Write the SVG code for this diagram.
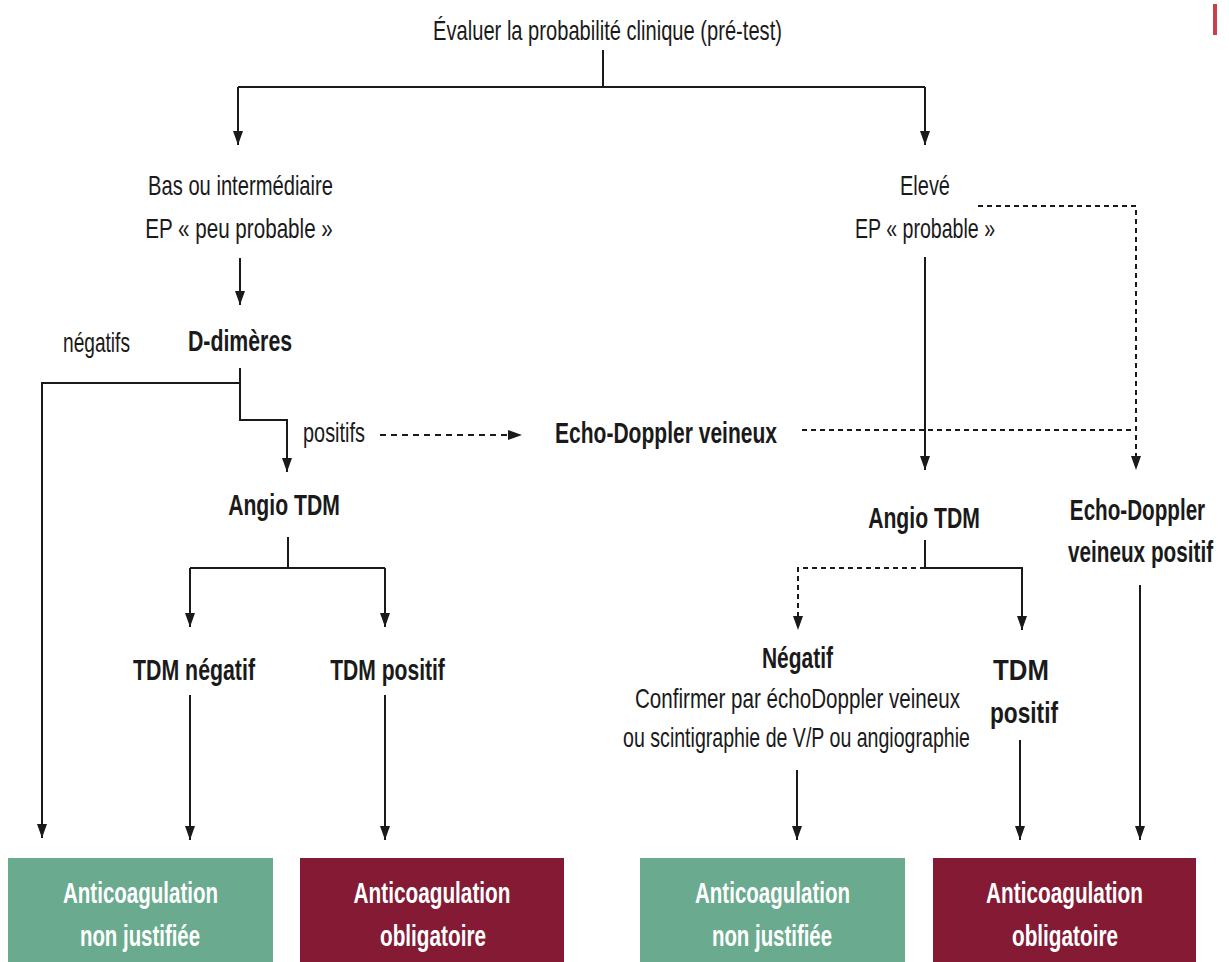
<svg xmlns="http://www.w3.org/2000/svg" width="1229" height="962" viewBox="0 0 1229 962">
  <defs>
    <!-- one arrowhead, aligned with the end of each path -->
    <marker id="arrow" viewBox="0 0 14 10" refX="14" refY="5" markerWidth="14" markerHeight="10" markerUnits="userSpaceOnUse" orient="auto">
      <path d="M0,0 L14,5 L0,10 Z" fill="#1a1a1a"/>
    </marker>
    <style>
      text { font-family: "Liberation Sans", Arial, sans-serif; font-size: 28px; fill: #1a1a1a; text-anchor: middle; }
      .b { font-weight: bold; font-size: 29px; }
      .w { fill: #ffffff; font-weight: bold; font-size: 29px; }
      .ln { fill: none; stroke: #1a1a1a; stroke-width: 2; }
      .dash { fill: none; stroke: #1a1a1a; stroke-width: 2; stroke-dasharray: 6 5; }
      .dot { fill: none; stroke: #1a1a1a; stroke-width: 2; stroke-dasharray: 5 4; }
      .ok { fill: #6aab8f; }
      .must { fill: #841a34; }
    </style>
  </defs>

  <!-- page marker -->
  <rect x="1213" y="4" width="4" height="31" fill="#c8414a"/>

  <!-- connectors -->
  <g id="connectors">
    <path class="ln" d="M603,50 V87"/>
    <path class="ln" d="M238,87 H925"/>
    <path class="ln" d="M238,87 V145" marker-end="url(#arrow)"/>
    <path class="ln" d="M925,87 V145" marker-end="url(#arrow)"/>

    <path class="ln" d="M240,258 V305" marker-end="url(#arrow)"/>
    <path class="ln" d="M240,368 V420 H287 V472" marker-end="url(#arrow)"/>
    <path class="ln" d="M240,383 H42 V838" marker-end="url(#arrow)"/>
    <path class="dash" d="M380,435 H522" marker-end="url(#arrow)"/>

    <path class="dot" d="M802,430 H1136"/>
    <path class="dot" d="M978,206 H1136 V470" marker-end="url(#arrow)"/>
    <path class="ln" d="M925,257 V470" marker-end="url(#arrow)"/>

    <path class="ln" d="M288,537 V568"/>
    <path class="ln" d="M190,568 H385"/>
    <path class="ln" d="M190,568 V627" marker-end="url(#arrow)"/>
    <path class="ln" d="M385,568 V627" marker-end="url(#arrow)"/>
    <path class="ln" d="M190,695 V840" marker-end="url(#arrow)"/>
    <path class="ln" d="M385,695 V840" marker-end="url(#arrow)"/>

    <path class="ln" d="M925,540 V568 H1022 V630" marker-end="url(#arrow)"/>
    <path class="dot" d="M925,568 H798 V630" marker-end="url(#arrow)"/>
    <path class="ln" d="M797,770 V840" marker-end="url(#arrow)"/>
    <path class="ln" d="M1020,740 V840" marker-end="url(#arrow)"/>
    <path class="ln" d="M1140,585 V840" marker-end="url(#arrow)"/>
  </g>

  <!-- regular labels are narrowed to 0.68, bold ones to 0.76 -->
  <g id="node-start">
    <text transform="matrix(0.68 0 0 1 607.5 40)" textLength="513" lengthAdjust="spacingAndGlyphs">Évaluer la probabilité clinique (pré-test)</text>
  </g>

  <g id="node-low">
    <text transform="matrix(0.68 0 0 1 240.5 195)" textLength="272" lengthAdjust="spacingAndGlyphs">Bas ou intermédiaire</text>
    <text transform="matrix(0.68 0 0 1 239 238)" textLength="276" lengthAdjust="spacingAndGlyphs">EP « peu probable »</text>
  </g>

  <g id="node-high">
    <text transform="matrix(0.68 0 0 1 925 195)" textLength="73.5" lengthAdjust="spacingAndGlyphs">Elevé</text>
    <text transform="matrix(0.68 0 0 1 925 238)" textLength="206" lengthAdjust="spacingAndGlyphs">EP « probable »</text>
  </g>

  <g id="node-ddimeres">
    <text class="b" transform="matrix(0.76 0 0 1 240 351)" textLength="137" lengthAdjust="spacingAndGlyphs">D-dimères</text>
  </g>

  <g id="label-negatifs">
    <text transform="matrix(0.68 0 0 1 96.5 352)" textLength="98.5" lengthAdjust="spacingAndGlyphs">négatifs</text>
  </g>

  <g id="label-positifs">
    <text transform="matrix(0.68 0 0 1 334 442)" textLength="91" lengthAdjust="spacingAndGlyphs">positifs</text>
  </g>

  <g id="node-echo">
    <text class="b" transform="matrix(0.76 0 0 1 666 443)" textLength="292" lengthAdjust="spacingAndGlyphs">Echo-Doppler veineux</text>
  </g>

  <g id="node-angio-left">
    <text class="b" transform="matrix(0.76 0 0 1 284 515)" textLength="147" lengthAdjust="spacingAndGlyphs">Angio TDM</text>
  </g>

  <g id="node-angio-right">
    <text class="b" transform="matrix(0.76 0 0 1 924 528)" textLength="147" lengthAdjust="spacingAndGlyphs">Angio TDM</text>
  </g>

  <g id="node-echo-positive">
    <text class="b" transform="matrix(0.76 0 0 1 1137.5 520)" textLength="178" lengthAdjust="spacingAndGlyphs">Echo-Doppler</text>
    <text class="b" transform="matrix(0.76 0 0 1 1140.5 562)" textLength="191" lengthAdjust="spacingAndGlyphs">veineux positif</text>
  </g>

  <g id="node-tdm-neg">
    <text class="b" transform="matrix(0.76 0 0 1 194 680)" textLength="160.5" lengthAdjust="spacingAndGlyphs">TDM négatif</text>
  </g>

  <g id="node-tdm-pos">
    <text class="b" transform="matrix(0.76 0 0 1 387.5 680)" textLength="151" lengthAdjust="spacingAndGlyphs">TDM positif</text>
  </g>

  <g id="node-negatif">
    <text class="b" transform="matrix(0.76 0 0 1 797.5 668)" textLength="93.5" lengthAdjust="spacingAndGlyphs">Négatif</text>
    <text transform="matrix(0.68 0 0 1 797.5 708)" textLength="478" lengthAdjust="spacingAndGlyphs">Confirmer par échoDoppler veineux</text>
    <text transform="matrix(0.68 0 0 1 796.5 747)" textLength="510" lengthAdjust="spacingAndGlyphs">ou scintigraphie de V/P ou angiographie</text>
  </g>

  <g id="node-tdm-pos-right">
    <text class="b" transform="matrix(0.76 0 0 1 1021 680)" textLength="73.5" lengthAdjust="spacingAndGlyphs">TDM</text>
    <text class="b" transform="matrix(0.76 0 0 1 1024 723)" textLength="89.5" lengthAdjust="spacingAndGlyphs">positif</text>
  </g>

  <!-- outcome boxes -->
  <g id="box-1">
    <rect class="ok" x="8" y="858" width="265" height="110"/>
    <text class="w" transform="matrix(0.76 0 0 1 140.5 903)" textLength="204" lengthAdjust="spacingAndGlyphs">Anticoagulation</text>
    <text class="w" transform="matrix(0.76 0 0 1 140 946)" textLength="158" lengthAdjust="spacingAndGlyphs">non justifiée</text>
  </g>
  <g id="box-2">
    <rect class="must" x="300" y="858" width="264" height="110"/>
    <text class="w" transform="matrix(0.76 0 0 1 432 903)" textLength="206.5" lengthAdjust="spacingAndGlyphs">Anticoagulation</text>
    <text class="w" transform="matrix(0.76 0 0 1 433 946)" textLength="139.5" lengthAdjust="spacingAndGlyphs">obligatoire</text>
  </g>
  <g id="box-3">
    <rect class="ok" x="640" y="858" width="265" height="110"/>
    <text class="w" transform="matrix(0.76 0 0 1 772.5 903)" textLength="204" lengthAdjust="spacingAndGlyphs">Anticoagulation</text>
    <text class="w" transform="matrix(0.76 0 0 1 772 946)" textLength="158" lengthAdjust="spacingAndGlyphs">non justifiée</text>
  </g>
  <g id="box-4">
    <rect class="must" x="933" y="858" width="263" height="110"/>
    <text class="w" transform="matrix(0.76 0 0 1 1064.5 903)" textLength="206.5" lengthAdjust="spacingAndGlyphs">Anticoagulation</text>
    <text class="w" transform="matrix(0.76 0 0 1 1065 946)" textLength="139.5" lengthAdjust="spacingAndGlyphs">obligatoire</text>
  </g>
</svg>
